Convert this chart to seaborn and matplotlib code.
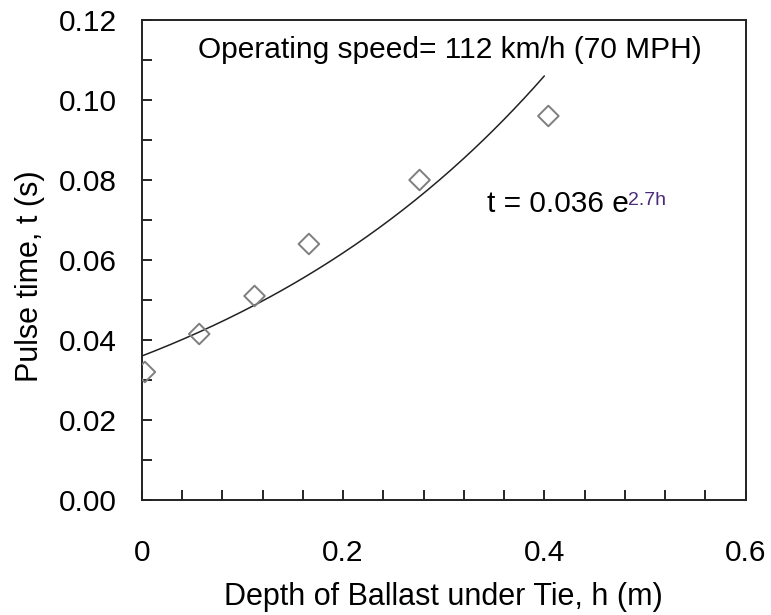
import numpy as np
import pandas as pd
import seaborn as sns
import matplotlib.pyplot as plt
from matplotlib.ticker import MultipleLocator

sns.set_theme(style="white")
plt.rcParams['font.family'] = ['Liberation Sans', 'DejaVu Sans']

# measured points
depth = [0.003, 0.057, 0.112, 0.166, 0.276, 0.404]
pulse = [0.032, 0.0415, 0.051, 0.064, 0.080, 0.096]

# exponential trendline t = a * exp(b h)
fit_a = 0.036
fit_b = 2.7
fit_hmax = 0.4

df = pd.DataFrame({'h': depth, 't': pulse})
hh = np.linspace(0, fit_hmax, 200)
fit = pd.DataFrame({'h': hh, 't': fit_a * np.exp(fit_b * hh)})

fig = plt.figure(figsize=(7.71, 6.15), dpi=100)
ax = fig.add_axes([0.184, 0.187, 0.783, 0.7805])

sns.lineplot(data=fit, x='h', y='t', color='#222222', linewidth=1.1, ax=ax)
sns.scatterplot(data=df, x='h', y='t', marker='D', s=110, facecolor='none',
                edgecolor='#7f7f7f', linewidth=1.4, ax=ax, zorder=3)

ax.set_xlim(0, 0.6)
ax.set_ylim(0, 0.12)
ax.xaxis.set_major_locator(MultipleLocator(0.2))
ax.xaxis.set_minor_locator(MultipleLocator(0.04))
ax.yaxis.set_major_locator(MultipleLocator(0.02))
ax.yaxis.set_minor_locator(MultipleLocator(0.01))
ax.xaxis.set_major_formatter(plt.FuncFormatter(lambda v, p: '0' if abs(v) < 1e-9 else f'{v:.1f}'))
ax.yaxis.set_major_formatter(plt.FuncFormatter(lambda v, p: f'{v:.2f}'))
ax.tick_params(which='both', direction='in', length=7, width=1.2, color='black',
               labelsize=21.5, labelcolor='black', bottom=True, left=True)
ax.tick_params(axis='x', pad=28)
ax.tick_params(axis='y', pad=18)
for s in ax.spines.values():
    s.set_color('#222222')
    s.set_linewidth(1.4)

ax.set_xlabel('Depth of Ballast under Tie, h (m)', fontsize=22, labelpad=11, color='black')
ax.set_ylabel('Pulse time, t (s)', fontsize=22, color='black')
ax.yaxis.set_label_coords(-0.16, 0.467)

ax.text(0.306, 0.1125, 'Operating speed= 112 km/h (70 MPH)', fontsize=21.5,
        ha='center', va='center', color='black')
ax.text(0.343, 0.0739, 't = 0.036 e', fontsize=21.5, ha='left', va='center',
        color='black')
ax.text(0.4835, 0.0749, '2.7h', fontsize=14, ha='left', va='center',
        color='#4b2a7a')

fig.savefig('out.png', dpi=100)
